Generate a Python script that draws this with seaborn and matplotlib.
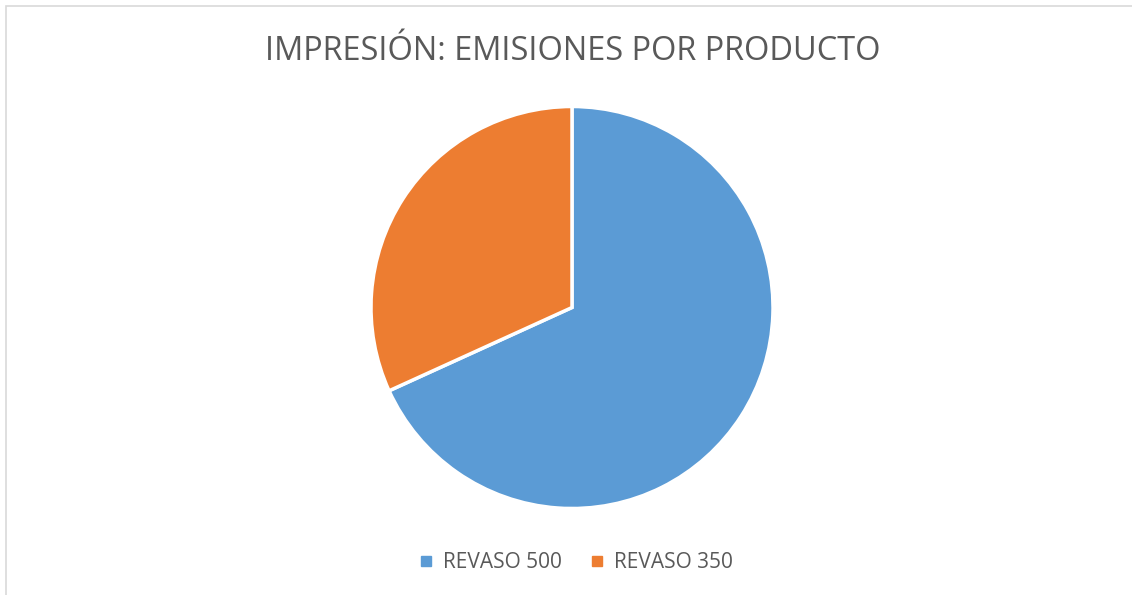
import matplotlib
matplotlib.use("Agg")
import matplotlib.pyplot as plt
import seaborn as sns
from matplotlib.patches import Rectangle
from matplotlib.lines import Line2D

# Datos
productos = ["REVASO 500", "REVASO 350"]
emisiones = [68.2, 31.8]
colores = ["#5B9BD5", "#ED7D31"]
titulo = "IMPRESIÓN: EMISIONES POR PRODUCTO"

sns.set_style("white")
plt.rcParams["font.family"] = ["Open Sans", "DejaVu Sans"]

W, H = 1132, 595
fig = plt.figure(figsize=(W / 100, H / 100), dpi=100)

# marco gris del área del gráfico (solo se ven los bordes izquierdo y superior)
fig.patches.append(Rectangle((5.5 / W, -10 / H), (W + 10) / W, (H + 10 - 5.5) / H,
                             transform=fig.transFigure, fill=False,
                             edgecolor="#D9D9D9", linewidth=1.2))

cx, cy, r = 572, 307.5, 201
ax = fig.add_axes([(cx - r) / W, (H - cy - r) / H, 2 * r / W, 2 * r / H])
ax.pie(emisiones, colors=colores, startangle=90, counterclock=False,
       radius=1, wedgeprops=dict(edgecolor="white", linewidth=2.5))
ax.set_xlim(-1, 1)
ax.set_ylim(-1, 1)
ax.set_aspect("equal")

fig.text(0.5 + 7 / W, 1 - 52 / H, titulo, ha="center", va="center",
         fontsize=23.4, color="#595959")

handles = [Line2D([], [], marker="s", linestyle="", markersize=7,
                  markerfacecolor=c, markeredgecolor=c) for c in colores]
fig.legend(handles, productos, loc="center", bbox_to_anchor=(0.5 + 9 / W, 1 - 563 / H),
           ncol=2, frameon=False, fontsize=15, labelcolor="#595959",
           handletextpad=0.4, columnspacing=1.3, handlelength=0.8)

fig.savefig("out.png", dpi=100)
